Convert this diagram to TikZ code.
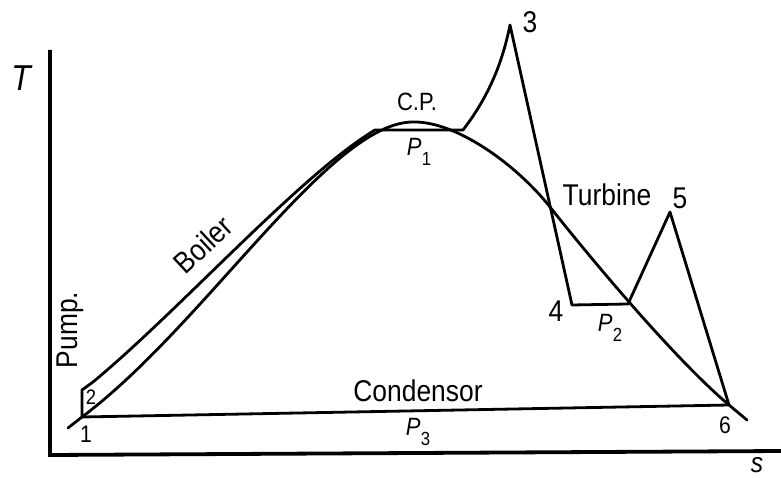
\documentclass[tikz,border=0pt]{standalone}
\usepackage{fontspec}
\setmainfont[FakeStretch=0.88]{Liberation Sans}
\newcommand{\Plab}[1]{\textit{P}\kern0.5pt\raisebox{-0.4em}{\fontsize{19}{19}\selectfont #1}}
\begin{document}
\begin{tikzpicture}[x=1pt,y=-1pt,
  curve/.style={line width=2.8pt, line join=round, line cap=round},
  axis/.style={line width=3.8pt},
  lbl/.style={inner sep=0pt, font=\fontsize{30}{32}\selectfont},
  sml/.style={inner sep=0pt, font=\fontsize{24}{26}\selectfont},
  plbl/.style={inner sep=0pt, font=\fontsize{25}{27}\selectfont}]
\useasboundingbox (0,0) rectangle (781,478);
% axes
\coordinate (o) at (50,455);
\coordinate (ytop) at (50,50);
\coordinate (xend) at (781,451);
\draw[axis] (ytop) -- (o) -- (xend);
\node[inner sep=0pt, font=\fontsize{36}{38}\selectfont\itshape] (T) at (21,78) {T};
\node[inner sep=0pt, font=\fontsize{28}{30}\selectfont\itshape] (s) at (757,465) {s};
% state points
\coordinate (p1) at (82,417);
\coordinate (p2) at (82,390);
\coordinate (pg) at (463,130);
\coordinate (p3) at (510,25);
\coordinate (p4) at (572,305);
\coordinate (pa) at (628,304);
\coordinate (p5) at (670,212);
\coordinate (p6) at (729,405);
\coordinate (cpt) at (413,122);
% saturation dome
\draw[curve] (68,428) -- (p1) .. controls (205,325) and (330,122) .. (cpt)
  .. controls (455,121) and (515,163) .. (550,207)
  .. controls (580,245) and (670,355) .. (p6) -- (747,420);
% cycle
\draw[curve] (p6) -- (p1) -- (p2) -- (93,382)
  .. controls (180,310) and (300,175) .. (375,130)
  -- (pg) .. controls (490,95) and (503,60) .. (p3) -- (p4) -- (pa) -- (p5) -- (p6);
% labels
\node[sml] (l1) at (86,434) {1};
\node[inner sep=0pt, font=\fontsize{21}{22}\selectfont] (l2) at (91,397) {2};
\node[lbl] (l3) at (530,22) {3};
\node[lbl] (l4) at (556,311) {4};
\node[lbl] (l5) at (680,198) {5};
\node[sml] (l6) at (725,425) {6};
\node[plbl] (cp) at (417,102) {C.P.};
\node[plbl] (P1) at (419,152) {\Plab{1}};
\node[plbl] (P2) at (610,328) {\Plab{2}};
\node[plbl] (P3) at (418,432) {\Plab{3}};
\node[lbl] (cond) at (418,391) {Condensor};
\node[lbl] (turb) at (607,195) {Turbine};
\node[lbl, rotate=43] (boil) at (203,245) {Boiler};
\node[lbl, rotate=90] (pump) at (70,330) {Pump.};
\end{tikzpicture}
\end{document}
